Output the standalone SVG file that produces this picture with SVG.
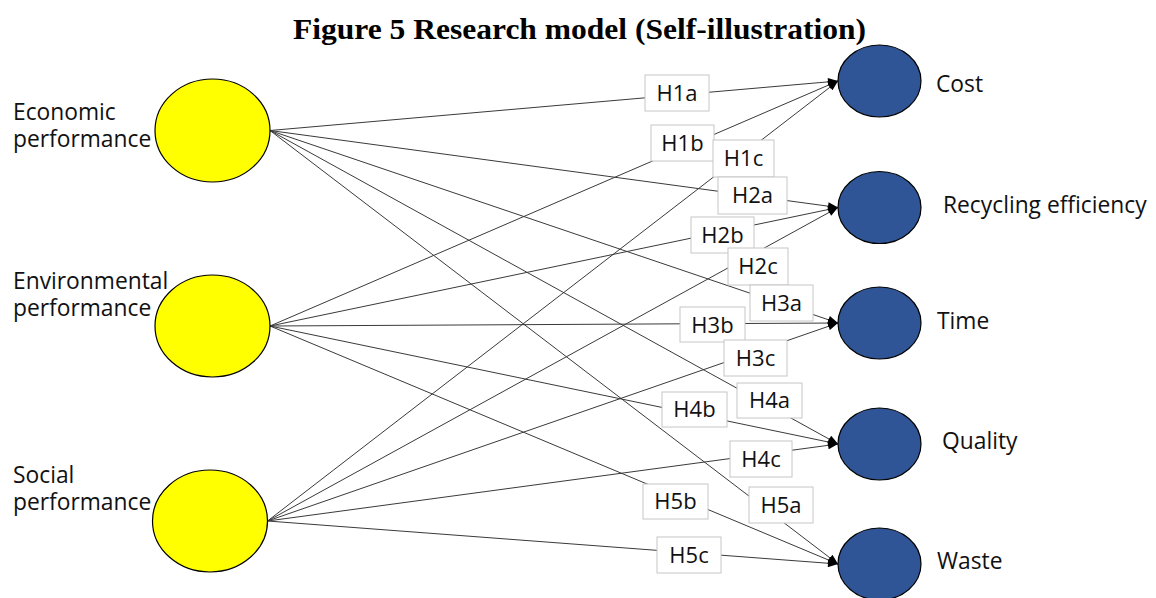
<svg xmlns="http://www.w3.org/2000/svg" width="1156" height="598" viewBox="0 0 1156 598">
  <style>
    .title { font-family: "Liberation Serif", "Times New Roman", serif; font-weight: bold; font-size: 30px; fill: #000; }
    .lbl { font-family: "Open Sans", "Noto Sans", "DejaVu Sans", sans-serif; font-size: 22.8px; fill: #111; }
    .hyp { font-family: "Open Sans", "Noto Sans", "DejaVu Sans", sans-serif; font-size: 22px; fill: #111; text-anchor: middle; }
    .src { fill: #FFFF00; stroke: #000; stroke-width: 1.2; }
    .dst { fill: #2F5597; stroke: #000; stroke-width: 1.2; }
    .edge { stroke: #3a3a3a; stroke-width: 1; fill: none; marker-end: url(#arrow); }
    .box { fill: #fff; stroke: #c6c6c6; stroke-width: 1; }
  </style>
  <defs>
    <marker id="arrow" viewBox="0 0 10 8" refX="10" refY="4" markerWidth="11" markerHeight="8" markerUnits="userSpaceOnUse" orient="auto">
      <path d="M0,0 L10,4 L0,8 Z" fill="#000"/>
    </marker>
  </defs>

  <rect width="1156" height="598" fill="#fff"/>

  <text class="title" x="293" y="39" textLength="573" lengthAdjust="spacingAndGlyphs">Figure 5 Research model (Self-illustration)</text>

  <!-- connectors: hypothesis paths from each performance construct to each outcome -->
  <g id="connectors">
    <line class="edge" x1="270" y1="130.5" x2="838" y2="81"/>
    <line class="edge" x1="270" y1="326" x2="838" y2="81"/>
    <line class="edge" x1="267.5" y1="521" x2="838" y2="81"/>
    <line class="edge" x1="270" y1="130.5" x2="838" y2="207.5"/>
    <line class="edge" x1="270" y1="326" x2="838" y2="207.5"/>
    <line class="edge" x1="267.5" y1="521" x2="838" y2="207.5"/>
    <line class="edge" x1="270" y1="130.5" x2="838" y2="323"/>
    <line class="edge" x1="270" y1="326" x2="838" y2="323"/>
    <line class="edge" x1="267.5" y1="521" x2="838" y2="323"/>
    <line class="edge" x1="270" y1="130.5" x2="838" y2="444"/>
    <line class="edge" x1="270" y1="326" x2="838" y2="444"/>
    <line class="edge" x1="267.5" y1="521" x2="838" y2="444"/>
    <line class="edge" x1="270" y1="130.5" x2="838" y2="564"/>
    <line class="edge" x1="270" y1="326" x2="838" y2="564"/>
    <line class="edge" x1="267.5" y1="521" x2="838" y2="564"/>
  </g>

  <!-- hypothesis labels -->
  <g id="labels">
    <g id="H1a"><rect class="box" x="645" y="75" width="64" height="36"/><text class="hyp" x="677" y="101">H1a</text></g>
    <g id="H1b"><rect class="box" x="651" y="125" width="63" height="36"/><text class="hyp" x="682.5" y="151">H1b</text></g>
    <g id="H1c"><rect class="box" x="713" y="140" width="61" height="37"/><text class="hyp" x="743.5" y="166">H1c</text></g>
    <g id="H2a"><rect class="box" x="718" y="177" width="69" height="37"/><text class="hyp" x="752.5" y="203">H2a</text></g>
    <g id="H2b"><rect class="box" x="691" y="217" width="63" height="36"/><text class="hyp" x="722.5" y="243">H2b</text></g>
    <g id="H2c"><rect class="box" x="728" y="248" width="60" height="37"/><text class="hyp" x="758" y="274">H2c</text></g>
    <g id="H3a"><rect class="box" x="750" y="285" width="63" height="36"/><text class="hyp" x="781.5" y="311">H3a</text></g>
    <g id="H3b"><rect class="box" x="680" y="307" width="65" height="35"/><text class="hyp" x="712.5" y="333">H3b</text></g>
    <g id="H3c"><rect class="box" x="724" y="340" width="63" height="36"/><text class="hyp" x="755.5" y="366">H3c</text></g>
    <g id="H4a"><rect class="box" x="737" y="383" width="65" height="35"/><text class="hyp" x="769.5" y="408">H4a</text></g>
    <g id="H4b"><rect class="box" x="662" y="392" width="65" height="35"/><text class="hyp" x="694.5" y="417">H4b</text></g>
    <g id="H4c"><rect class="box" x="730" y="441" width="62" height="36"/><text class="hyp" x="761" y="467">H4c</text></g>
    <g id="H5b"><rect class="box" x="643" y="484" width="65" height="35"/><text class="hyp" x="675.5" y="509">H5b</text></g>
    <g id="H5a"><rect class="box" x="749" y="487" width="64" height="36"/><text class="hyp" x="781" y="513">H5a</text></g>
    <g id="H5c"><rect class="box" x="657" y="537" width="64" height="36"/><text class="hyp" x="689" y="563">H5c</text></g>
  </g>

  <!-- independent constructs -->
  <g id="economic">
    <ellipse class="src" cx="212.5" cy="130.5" rx="57.5" ry="51.5"/>
    <text class="lbl" x="13" y="120">Economic</text>
    <text class="lbl" x="13" y="147">performance</text>
  </g>
  <g id="environmental">
    <ellipse class="src" cx="212.5" cy="326" rx="57.5" ry="51"/>
    <text class="lbl" x="13" y="289">Environmental</text>
    <text class="lbl" x="13" y="316">performance</text>
  </g>
  <g id="social">
    <ellipse class="src" cx="210" cy="521" rx="57.5" ry="51"/>
    <text class="lbl" x="13" y="483">Social</text>
    <text class="lbl" x="13" y="510">performance</text>
  </g>

  <!-- outcome constructs -->
  <g id="cost">
    <ellipse class="dst" cx="879.5" cy="81" rx="41.5" ry="36"/>
    <text class="lbl" x="936" y="92">Cost</text>
  </g>
  <g id="recycling">
    <ellipse class="dst" cx="879.5" cy="207.5" rx="41.5" ry="36"/>
    <text class="lbl" x="943" y="213">Recycling efficiency</text>
  </g>
  <g id="time">
    <ellipse class="dst" cx="879.5" cy="323" rx="41.5" ry="36"/>
    <text class="lbl" x="937" y="329">Time</text>
  </g>
  <g id="quality">
    <ellipse class="dst" cx="879.5" cy="444" rx="41.5" ry="36"/>
    <text class="lbl" x="942" y="449">Quality</text>
  </g>
  <g id="waste">
    <ellipse class="dst" cx="879.5" cy="564" rx="41.5" ry="36"/>
    <text class="lbl" x="937" y="569">Waste</text>
  </g>
</svg>
